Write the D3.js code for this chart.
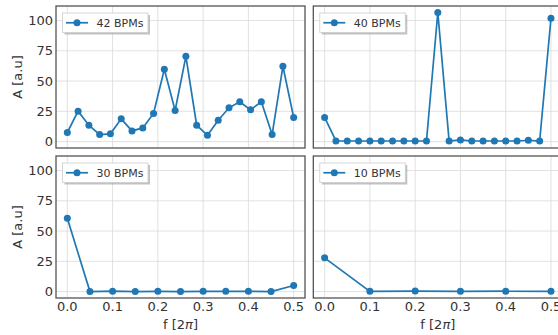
<!DOCTYPE html>
<html>
<head>
<meta charset="utf-8">
<script src="https://cdn.jsdelivr.net/npm/d3@7"></script>
<style>
  body { margin: 0; background: #fff; }
  svg { display: block; font-family: "DejaVu Sans", sans-serif; }
</style>
</head>
<body>
<script>
// amplitude spectra, f = k / N
const labels = ["42 BPMs", "40 BPMs", "30 BPMs", "10 BPMs"];
const sizes = [42, 40, 20, 10];
const amp42 = [7.5, 25.1, 13.5, 5.8, 6.4, 18.8, 8.8, 11.3, 23.2, 59.7, 25.7,
  70.4, 13.5, 5.2, 17.7, 27.9, 32.9, 26.2, 32.9, 5.8, 62.2, 19.9];
const amp40 = [19.9, 0.5, 0.5, 0.5, 0.5, 0.5, 0.5, 0.5, 0.5, 0.5, 106.6,
  0.5, 1.4, 0.5, 0.5, 0.5, 0.5, 0.5, 1.1, 0.5, 101.9];
const amp30 = [60.5, 0, 0.3, 0, 0.2, 0, 0.2, 0.2, 0.2, 0, 5];
const amp10 = [27.9, 0.2, 0.4, 0.2, 0.3, 0.2];
const xTicks = [0, 0.1, 0.2, 0.3, 0.4, 0.5];
const yTicks = [0, 25, 50, 75, 100];

const series = [amp42, amp40, amp30, amp10];

const width = 558, height = 335;
const color = "#1f77b4";
const frame = "#4d4d4d";
const grid = "#d9d9d9";
const textCol = "#333";

const cols = [56, 313.3];
const rows = [6, 156];
const pw = 249, ph = 142;

const x = d3.scaleLinear().domain([-0.025, 0.525]);
const y = d3.scaleLinear().domain([-5.3, 112]);

const svg = d3.select("body").append("svg")
  .attr("width", width)
  .attr("height", height)
  .attr("viewBox", [0, 0, width, height]);

const line = d3.line()
  .x((d) => x(d.f))
  .y((d) => y(d.a));

series.forEach((vals, i) => {
  const col = i % 2, row = Math.floor(i / 2);
  const x0 = cols[col], y0 = rows[row];
  x.range([x0, x0 + pw]);
  y.range([y0 + ph, y0]);

  const pts = vals.map((a, k) => ({ f: k / sizes[i], a }));
  const g = svg.append("g");

  // gridlines
  g.selectAll("line.gx")
    .data(xTicks)
    .join("line")
    .attr("x1", (d) => x(d)).attr("x2", (d) => x(d))
    .attr("y1", y0).attr("y2", y0 + ph)
    .attr("stroke", grid).attr("stroke-width", 0.8);
  g.selectAll("line.gy")
    .data(yTicks)
    .join("line")
    .attr("y1", (d) => y(d)).attr("y2", (d) => y(d))
    .attr("x1", x0).attr("x2", x0 + pw)
    .attr("stroke", grid).attr("stroke-width", 0.8);

  // data
  g.append("path")
    .datum(pts)
    .attr("fill", "none")
    .attr("stroke", color)
    .attr("stroke-width", 1.7)
    .attr("d", line);
  g.selectAll("circle")
    .data(pts)
    .join("circle")
    .attr("cx", (d) => x(d.f))
    .attr("cy", (d) => y(d.a))
    .attr("r", 3.5)
    .attr("fill", color);

  // frame
  g.append("rect")
    .attr("x", x0).attr("y", y0)
    .attr("width", pw).attr("height", ph)
    .attr("fill", "none")
    .attr("stroke", frame)
    .attr("stroke-width", 1.25);

  // y tick labels only on left column
  if (col === 0) {
    g.selectAll("text.yt")
      .data(yTicks)
      .join("text")
      .attr("x", x0 - 3)
      .attr("y", (d) => y(d))
      .attr("dy", "0.36em")
      .attr("text-anchor", "end")
      .attr("font-size", 13)
      .attr("fill", textCol)
      .text((d) => d);
    g.append("text")
      .attr("transform", `translate(17,${y0 + ph / 2}) rotate(-90)`)
      .attr("text-anchor", "middle")
      .attr("dy", "0.36em")
      .attr("font-size", 13)
      .attr("fill", textCol)
      .text("A [a.u]");
  }

  // x tick labels only on bottom row
  if (row === 1) {
    g.selectAll("text.xt")
      .data(xTicks)
      .join("text")
      .attr("x", (d) => x(d))
      .attr("y", y0 + ph + 13)
      .attr("text-anchor", "middle")
      .attr("font-size", 13)
      .attr("fill", textCol)
      .text((d) => d.toFixed(1));
    const xl = g.append("text")
      .attr("x", x0 + pw / 2)
      .attr("y", y0 + ph + 31)
      .attr("text-anchor", "middle")
      .attr("font-size", 13)
      .attr("fill", textCol);
    xl.append("tspan").text("f [2");
    xl.append("tspan").attr("font-style", "italic").text("π");
    xl.append("tspan").text("]");
  }

  // legend with shadow
  const lx = x0 + 6.5, ly = y0 + 7;
  const lw = 85.5, lh = 19.5;
  g.append("rect")
    .attr("x", lx + 2).attr("y", ly + 2)
    .attr("width", lw).attr("height", lh)
    .attr("fill", "#999").attr("opacity", 0.6);
  g.append("rect")
    .attr("x", lx).attr("y", ly)
    .attr("width", lw).attr("height", lh)
    .attr("fill", "#fff")
    .attr("stroke", "#ccc").attr("stroke-width", 0.8);
  g.append("line")
    .attr("x1", lx + 3.5).attr("x2", lx + 25.5)
    .attr("y1", ly + lh / 2).attr("y2", ly + lh / 2)
    .attr("stroke", color).attr("stroke-width", 1.7);
  g.append("circle")
    .attr("cx", lx + 14.5).attr("cy", ly + lh / 2)
    .attr("r", 3.5).attr("fill", color);
  g.append("text")
    .attr("x", lx + 34)
    .attr("y", ly + lh / 2)
    .attr("dy", "0.36em")
    .attr("font-size", 11)
    .attr("fill", textCol)
    .text(labels[i]);
});
</script>
</body>
</html>
